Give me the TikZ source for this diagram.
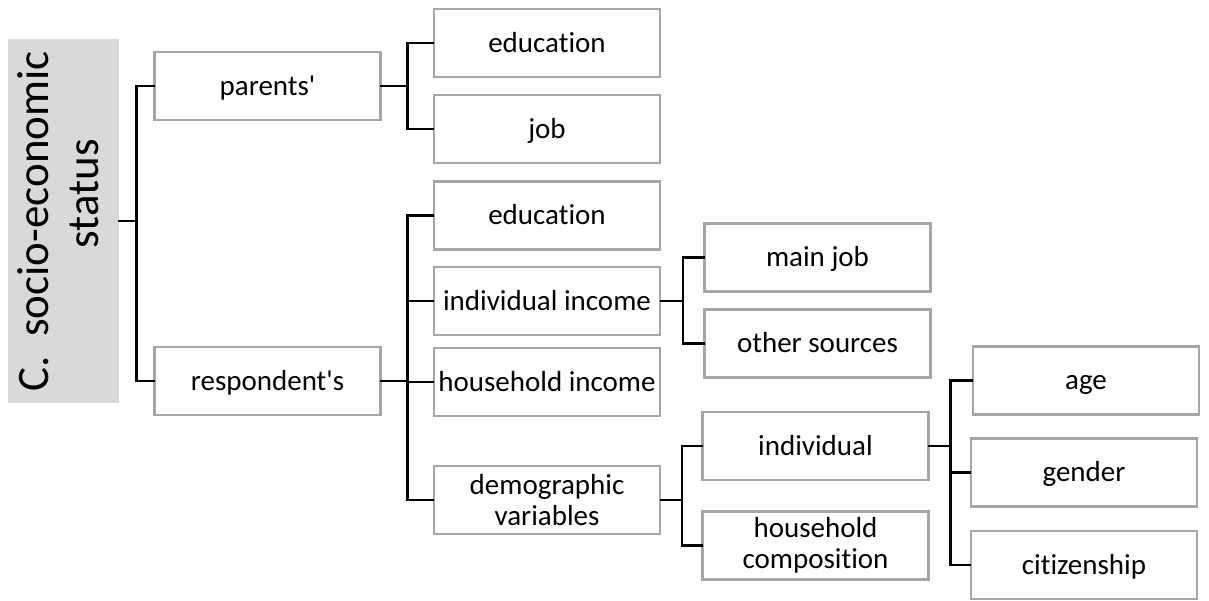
\documentclass[tikz,border=0pt]{standalone}
\usepackage{fontspec}
\setmainfont{Carlito}[Ligatures={NoCommon}]
\usepackage{xcolor}
\usepackage{tikz}
\definecolor{boxline}{RGB}{166,166,166}
\definecolor{headfill}{RGB}{217,217,217}
\newcommand{\apos}{\textquotesingle}
\tikzset{
  box/.style={draw=boxline,line width=2.2pt,fill=white,align=center,
              minimum width=226pt,minimum height=68pt,inner sep=0pt,
              font=\fontsize{29}{31}\selectfont},
  box1/.style={box,text height=22pt,text depth=4pt},
  headbox/.style={fill=headfill,rotate=90,minimum width=364pt,
              minimum height=111pt,inner sep=0pt,
              font=\fontsize{45}{50}\selectfont},
  link/.style={line width=2.7pt,line cap=rect},
}

\begin{document}
\begin{tikzpicture}[x=1pt, y=-1pt]
  \useasboundingbox (0,0) rectangle (1209,600);
  % root label (turned on its side)
  \node[headbox] (ses) at (63.5,221)
    {\begin{tabular}{@{}l@{\hspace{19pt}}c@{}}C. & socio-economic\\ & status\end{tabular}};
  % first level
  \node[box1] (par)  at (267.5,86)  {parents\apos};
  \node[box1] (resp) at (267.5,381) {respondent\apos s};
  % second level
  \node[box1] (pedu)  at (547,43)    {education};
  \node[box1] (pjob)  at (547,129)   {job};
  \node[box1] (redu)  at (547,215.5) {education};
  \node[box1] (iinc)  at (547,301)   {individual income};
  \node[box1] (hinc)  at (547,382)   {household income};
  \node[box]  (demo)  at (547,500)   {demographic\\variables};
  % third level
  \node[box1] (mjob)  at (817.5,257.5) {main job};
  \node[box1] (osrc)  at (817.5,343.5) {other sources};
  \node[box1] (indv)  at (815.5,446)   {individual};
  \node[box]  (hcmp)  at (815.5,545.5) {household\\composition};
  % fourth level
  \node[box1] (age)  at (1086,380.5) {age};
  \node[box1] (gend) at (1084,472.5) {gender};
  \node[box1] (citz) at (1084,565)   {citizenship};
  % elbow connectors (ses is rotated, its right side is .south)
  \draw[link] (ses.south) -- ++(17,0) |- (par.west);
  \draw[link] (ses.south) -- ++(17,0) |- (resp.west);
  \foreach \a/\b/\d in {par/pedu/26,par/pjob/26,
      resp/redu/26,resp/iinc/26,resp/hinc/26,resp/demo/26,
      iinc/mjob/22,iinc/osrc/22,demo/indv/21,demo/hcmp/21,
      indv/age/21,indv/gend/21,indv/citz/21}
    \draw[link] (\a.east) -- ++(\d,0) |- (\b.west);
\end{tikzpicture}
\end{document}
